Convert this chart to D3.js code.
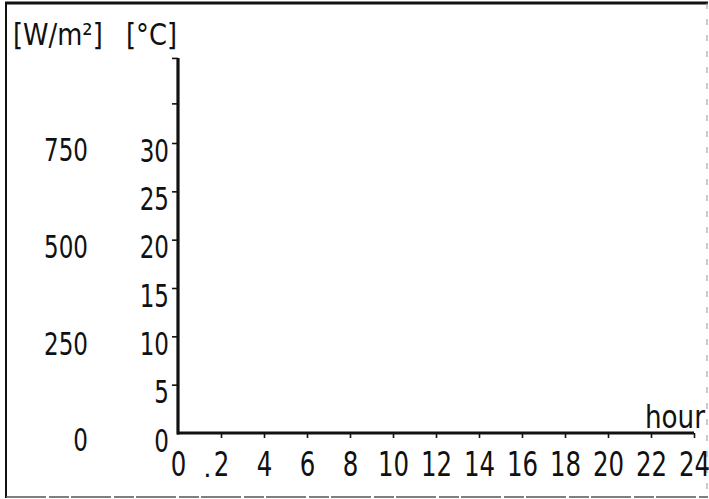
<!DOCTYPE html>
<html>
<head>
<meta charset="utf-8">
<script src="https://cdn.jsdelivr.net/npm/d3@7"></script>
<style>
  html, body { margin: 0; padding: 0; background: #fff; }
  svg { display: block; }
  text { font-family: "DejaVu Sans", "Liberation Sans", sans-serif; fill: #111; }
</style>
</head>
<body>
<svg id="chart" width="709" height="499"></svg>
<script>
// ---- data ----
const hourTicks = [0, 2, 4, 6, 8, 10, 12, 14, 16, 18, 20, 22, 24];
const tempTicks = [0, 5, 10, 15, 20, 25, 30];
const irradianceTicks = [0, 250, 500, 750];
const extraTempTicks = [34.1, 38.8];   // unlabeled ticks at top of axis
const hourLabel = "hour";
const irradianceUnit = "[W/m²]";
const tempUnit = "[°C]";

const SX = 0.72; // horizontal condensing of the plotter lettering

const svg = d3.select("#chart");

// frame
svg.append("line").attr("x1", 5).attr("x2", 708).attr("y1", 3).attr("y2", 3)
  .attr("stroke", "#111").attr("stroke-width", 3);
svg.append("line").attr("x1", 6).attr("x2", 6).attr("y1", 2).attr("y2", 498)
  .attr("stroke", "#111").attr("stroke-width", 2);
svg.append("line").attr("x1", 6).attr("x2", 708).attr("y1", 497).attr("y2", 497)
  .attr("stroke", "#555").attr("stroke-width", 1.5).attr("stroke-dasharray", "40 3 20 2");
svg.append("line").attr("x1", 707).attr("x2", 707).attr("y1", 3).attr("y2", 497)
  .attr("stroke", "#999").attr("stroke-width", 1).attr("stroke-dasharray", "6 10");

// scales
const x = d3.scaleLinear().domain([0, 24]).range([178, 694]);
const y = d3.scaleLinear().domain([0, 30]).range([433, 143]);
const yW = d3.scaleLinear().domain([0, 750]).range([y(0), y(30)]);
const yTop = d3.max(extraTempTicks);

// x axis
const xAxis = d3.axisBottom(x).tickValues(hourTicks).tickSize(5).tickPadding(16)
  .tickFormat(d3.format("d"));
const gx = svg.append("g").attr("transform", `translate(0,${y(0)})`).call(xAxis);
gx.select(".domain").remove();
gx.selectAll(".tick line").attr("stroke", "#111").attr("stroke-width", 1.6)
  .attr("display", d => d === 0 ? "none" : null);
gx.selectAll(".tick text").attr("font-size", 34).attr("fill", "#111")
  .attr("dy", "0.71em").attr("y", 19).attr("transform", `scale(${SX},1)`);
svg.append("line").attr("x1", x(0) - 1).attr("x2", x(24)).attr("y1", y(0)).attr("y2", y(0))
  .attr("stroke", "#111").attr("stroke-width", 3.2);

// stray dot between 0 and 2
svg.append("text").attr("x", (x(0) + x(2)) / 2 + 8).attr("y", 477)
  .attr("font-size", 26).attr("text-anchor", "middle").text(".");

// y axis (temperature)
const yAxis = d3.axisLeft(y).tickValues(tempTicks.concat(extraTempTicks)).tickSize(6).tickPadding(4)
  .tickFormat(d => tempTicks.includes(d) ? d3.format("d")(d) : "");
const gy = svg.append("g").attr("transform", `translate(${x(0)},0)`).call(yAxis);
gy.select(".domain").remove();
gy.selectAll(".tick line").attr("stroke", "#111").attr("stroke-width", 1.6)
  .attr("display", d => d === 0 ? "none" : null);
gy.selectAll(".tick text").attr("font-size", 32).attr("fill", "#111")
  .attr("x", -9 / SX).attr("dy", "0.35em").attr("transform", `translate(0,7) scale(${SX},1)`);
svg.append("line").attr("x1", x(0)).attr("x2", x(0)).attr("y1", y(yTop)).attr("y2", y(0) + 1.5)
  .attr("stroke", "#111").attr("stroke-width", 3.2);

// irradiance labels
svg.append("g").selectAll("text").data(irradianceTicks).join("text")
  .attr("x", 88 / SX).attr("y", d => yW(d)).attr("dy", "0.35em")
  .attr("transform", `translate(0,7) scale(${SX},1)`)
  .attr("text-anchor", "end").attr("font-size", 32).text(d => d);

// units
svg.append("text").attr("x", 13 / 0.86).attr("y", 45).attr("font-size", 30)
  .attr("transform", "scale(0.86,1)").text(irradianceUnit);
svg.append("text").attr("x", 126 / 0.86).attr("y", 45).attr("font-size", 30)
  .attr("transform", "scale(0.86,1)").text(tempUnit);

// hour label
svg.append("text").attr("x", 705 / 0.82).attr("y", 428).attr("text-anchor", "end")
  .attr("font-size", 32).attr("transform", "scale(0.82,1)").text(hourLabel);
</script>
</body>
</html>
